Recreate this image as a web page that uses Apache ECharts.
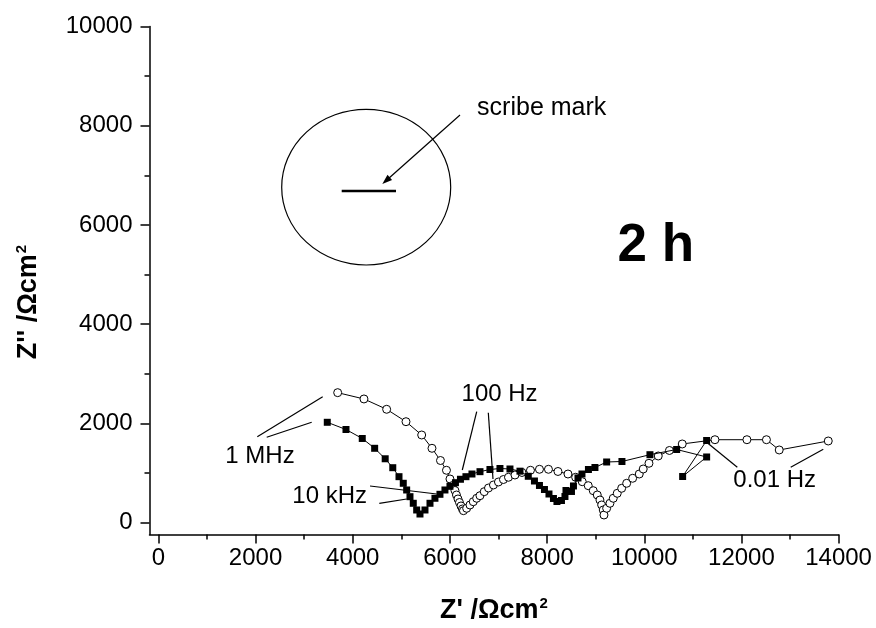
<!DOCTYPE html>
<html><head><meta charset="utf-8">
<script src="https://cdn.jsdelivr.net/npm/echarts@6/dist/echarts.min.js"></script>
<style>html,body{margin:0;padding:0;background:#fff}#c{width:876px;height:628px}</style>
</head><body><div id="c"></div>
<script>
// ---- tick values ----
const xTicks = [0, 2000, 4000, 6000, 8000, 10000, 12000, 14000];
const xMinorTicks = [1000, 3000, 5000, 7000, 9000, 11000, 13000];
const yTicks = [0, 2000, 4000, 6000, 8000, 10000];
const yMinorTicks = [1000, 3000, 5000, 7000, 9000];

// ---- open circles: Z' and Z'' (Ohm cm^2), 1 MHz -> 0.01 Hz ----
const openZre = [3690,4231,4698,5096,5419,5631,5806,5929,6001,6059,6104,6135,6166,6197,6228,6258,6279,6345,6413,6481,6551,6619,6707,6794,6896,6999,7102,7205,7339,7483,7658,7843,8028,8224,8430,8588,8724,8847,8950,9033,9088,9123,9156,9171,9226,9294,9362,9444,9535,9638,9761,9897,9979,10097,10288,10518,10782,11455,12113,12515,12778,13787];
const openZim = [2620,2493,2285,2035,1767,1499,1253,1056,881,750,649,558,478,407,337,276,242,290,357,423,492,544,625,699,760,820,870,915,961,1012,1056,1076,1076,1032,981,915,826,746,645,558,457,357,256,155,290,391,492,592,693,794,895,981,1082,1197,1344,1455,1586,1672,1672,1672,1465,1646];

// ---- filled squares ----
const filledZre = [3476,3861,4196,4451,4668,4824,4952,5040,5110,5178,5246,5316,5384,5487,5590,5692,5795,5898,6001,6114,6217,6330,6454,6619,6824,7030,7236,7442,7613,7740,7843,7946,8039,8131,8203,8296,8368,8389,8502,8543,8636,8718,8851,8985,9226,9541,10117,10667,11284,10790,11284];
const filledZim = [2023,1878,1697,1499,1288,1108,927,794,659,524,391,256,175,256,391,492,572,659,733,806,875,927,981,1028,1072,1092,1082,1038,935,840,750,669,578,488,427,447,528,649,629,740,901,981,1072,1112,1223,1233,1370,1475,1324,931,1656];

const FONT = "'Liberation Sans', Arial, Helvetica, sans-serif";
const X_MIN = -183, X_MAX = 14000, Y_MIN = -240, Y_MAX = 10000;
const AX = {color: '#000', width: 1.5};
const plain = v => String(v);

function xAxisDef(ticks, major) {
  return {
    type: 'value', min: X_MIN, max: X_MAX, position: 'bottom',
    axisLine: {show: major, onZero: false, lineStyle: AX},
    axisTick: {show: true, inside: false, length: major ? 9 : 5, customValues: ticks, lineStyle: AX},
    axisLabel: major ? {show: true, customValues: ticks, formatter: plain, color: '#000', fontSize: 24, fontFamily: FONT, margin: 12} : {show: false},
    splitLine: {show: false}
  };
}
function yAxisDef(ticks, major) {
  return {
    type: 'value', min: Y_MIN, max: Y_MAX, position: 'left',
    axisLine: {show: major, onZero: false, lineStyle: AX},
    axisTick: {show: true, inside: false, length: major ? 9 : 5, customValues: ticks, lineStyle: AX},
    axisLabel: major ? {show: true, customValues: ticks, formatter: plain, color: '#000', fontSize: 24, fontFamily: FONT, margin: 17} : {show: false},
    splitLine: {show: false}
  };
}

const txt = (x, y, s, size, bold) => ({
  type: 'text', x: x, y: y, z: 100,
  style: {text: s, fill: '#000', font: (bold ? 'bold ' : '') + size + 'px ' + FONT, textAlign: 'center', textVerticalAlign: 'middle'}
});
const ln = (x1, y1, x2, y2, w) => ({
  type: 'line', z: 100, shape: {x1: x1, y1: y1, x2: x2, y2: y2}, style: {stroke: '#000', lineWidth: w || 1.2}
});
const titleRich = {
  t: {font: 'bold 27px ' + FONT, fill: '#000'},
  s: {font: 'bold 15px ' + FONT, fill: '#000', verticalAlign: 'top', padding: [0, 0, 14, 1]}
};

const chart = echarts.init(document.getElementById('c'), null, {renderer: 'canvas'});
chart.setOption({
  animation: false,
  backgroundColor: '#fff',
  grid: {left: 149.5, right: 37.4, top: 26.4, bottom: 93.4, containLabel: false},
  xAxis: [xAxisDef(xTicks, true), xAxisDef(xMinorTicks, false)],
  yAxis: [yAxisDef(yTicks, true), yAxisDef(yMinorTicks, false)],
  series: [
    {
      type: 'line', name: 'open', xAxisIndex: 0, yAxisIndex: 0, z: 2,
      data: openZre.map((x, i) => [x, openZim[i]]),
      symbol: 'circle', symbolSize: 8, showAllSymbol: true,
      itemStyle: {color: '#fff', borderColor: '#000', borderWidth: 1},
      lineStyle: {color: '#000', width: 1}
    },
    {
      type: 'line', name: 'filled', xAxisIndex: 0, yAxisIndex: 0, z: 3,
      data: filledZre.map((x, i) => [x, filledZim[i]]),
      symbol: 'rect', symbolSize: 7, showAllSymbol: true,
      itemStyle: {color: '#000', borderColor: '#000', borderWidth: 0},
      lineStyle: {color: '#000', width: 1}
    }
  ],
  graphic: [
    // axis titles
    {
      type: 'text', x: 29, y: 302, rotation: Math.PI / 2, z: 100,
      style: {text: "{t|Z'' /Ωcm}{s|2}", textAlign: 'center', textVerticalAlign: 'middle', rich: titleRich}
    },
    {
      type: 'text', x: 494, y: 611, z: 100,
      style: {text: "{t|Z' /Ωcm}{s|2}", textAlign: 'center', textVerticalAlign: 'middle', rich: titleRich}
    },
    // inset sketch
    {type: 'circle', x: 366.2, y: 187.2, scaleX: 84.5 / 77.8, z: 100, shape: {cx: 0, cy: 0, r: 77.8}, style: {fill: 'none', stroke: '#000', lineWidth: 1.1}},
    ln(341.7, 191, 396, 191, 2.6),
    ln(460, 115, 386, 180.7, 1.2),
    {type: 'polygon', z: 100, shape: {points: [[382.3, 184], [392.1, 180.0], [387.5, 174.8]]}, style: {fill: '#000'}},
    txt(541.7, 108, 'scribe mark', 25, false),
    txt(655.8, 246, '2 h', 53, true),
    // frequency annotations
    txt(260, 456, '1 MHz', 24, false),
    ln(257.3, 436.7, 322.7, 396.7), ln(266.7, 437.3, 311.7, 422.3),
    txt(329.7, 496.5, '10 kHz', 24, false),
    ln(370, 486, 436.7, 494), ln(379.3, 503.3, 406.7, 499),
    txt(499.6, 394, '100 Hz', 24, false),
    ln(476.7, 411.7, 462.3, 470), ln(488.3, 412.7, 493, 479),
    txt(774.7, 480.5, '0.01 Hz', 24, false),
    ln(706, 441.7, 737.3, 467.3), ln(823.3, 449.3, 790.7, 467.3)
  ]
});
</script>
</body></html>
